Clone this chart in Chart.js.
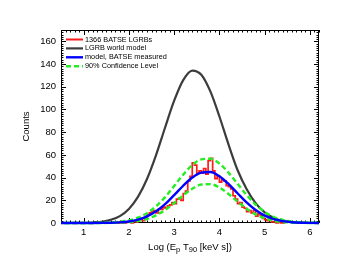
<!DOCTYPE html>
<html>
<head>
<meta charset="utf-8">
<script src="https://cdn.jsdelivr.net/npm/chart.js@4"></script>
<style>
  body { margin: 0; background: #fff; }
  #wrap { width: 341px; height: 264px; position: relative; }
</style>
</head>
<body>
<div id="wrap"><canvas id="c"></canvas></div>
<script>
// histogram of 1366 BATSE LGRBs, bin left edges (width 0.05) and counts
const binWidth = 0.05;
const binStart = 1.7;
const batseCounts = [1, 0, 1, 0, 0, 1, 1, 0, 2, 1, 3, 3, 2, 4, 7, 9, 10, 11, 9, 12,
  12, 14, 13, 15, 16, 18, 17, 21, 22, 20, 26, 28, 37, 41, 53, 51, 44, 46, 44, 48,
  43, 55, 57, 46, 39, 41, 36, 38, 37, 33, 32, 30, 24, 21, 17, 18, 14, 13, 10, 11,
  9, 11, 6, 8, 7, 4, 3, 2, 2, 1, 1, 0, 1, 0, 0];

// model curves sampled every 0.2 in log(Ep T90)
const curveX = [0.4, 0.6, 0.8, 1.0, 1.2, 1.4, 1.6, 1.8, 2.0, 2.2, 2.4, 2.6, 2.8, 3.0, 3.2, 3.4,
  3.6, 3.8, 4.0, 4.2, 4.4, 4.6, 4.8, 5.0, 5.2, 5.4, 5.6, 5.8, 6.0, 6.2, 6.4];
const worldModel = [0, 0.01, 0.05, 0.15, 0.42, 1.1, 2.8, 6.1, 12.4, 23.0, 38.8, 59.8, 84.1, 107.7, 125.9, 134.3,
  130.6, 115.9, 93.8, 69.3, 46.7, 30.0, 17.5, 9.3, 4.5, 2.0, 0.8, 0.3, 0.1, 0.02, 0];
const measuredModel = [0, 0, 0, 0, 0.02, 0.08, 0.22, 0.58, 1.37, 2.94, 5.76, 10.25, 16.6, 24.5, 32.8, 40.0,
  44.4, 44.9, 41.2, 34.4, 26.2, 18.1, 11.4, 6.5, 3.4, 1.6, 0.69, 0.27, 0.1, 0.03, 0];
const confUpper = [0, 0, 0, 0.01, 0.06, 0.17, 0.44, 1.06, 2.33, 4.69, 8.66, 14.7, 22.8, 32.6, 42.6, 51.0,
  56.1, 56.6, 52.4, 44.4, 34.6, 24.7, 16.2, 9.7, 5.3, 2.7, 1.25, 0.53, 0.2, 0.07, 0];
const confLower = [0, 0, 0, 0, 0.01, 0.03, 0.1, 0.29, 0.74, 1.71, 3.58, 6.75, 11.5, 17.6, 24.3, 30.2,
  33.9, 34.2, 31.2, 25.6, 18.9, 12.6, 7.6, 4.1, 2.0, 0.88, 0.35, 0.12, 0.04, 0.01, 0];

const xTicks = [1, 2, 3, 4, 5, 6];
const yTicks = [0, 20, 40, 60, 80, 100, 120, 140, 160];

const legendLabels = ['1366 BATSE LGRBs', 'LGRB world model', 'model, BATSE measured', '90% Confidence Level'];

const FONT = '"Liberation Sans", Arial, sans-serif';

// build histogram points (step before -> each segment takes the left value)
const histPoints = batseCounts.map((v, i) => ({ x: +(binStart + i * binWidth).toFixed(3), y: v }));
histPoints.push({ x: +(binStart + batseCounts.length * binWidth).toFixed(3), y: 0 });

const toPts = (ys) => ys.map((v, i) => ({ x: curveX[i], y: v }));

const clipBox = { left: 0, top: 0, right: 0, bottom: 3 };

const frameTicks = {
  id: 'frameTicks',
  beforeDatasetsDraw(chart) {
    const { ctx, chartArea: a, scales: { x, y } } = chart;
    ctx.save();
    ctx.strokeStyle = '#000';
    ctx.lineWidth = 1;
    ctx.strokeRect(a.left + 0.5, a.top + 0.5, a.right - a.left - 1, a.bottom - a.top - 1);
    ctx.beginPath();
    for (let i = 5; i <= 62; i++) {
      const px = Math.round(x.getPixelForValue(i / 10)) + 0.5;
      const len = i % 10 === 0 ? 5 : 2.5;
      ctx.moveTo(px, a.bottom); ctx.lineTo(px, a.bottom - len);
      ctx.moveTo(px, a.top); ctx.lineTo(px, a.top + len);
    }
    for (let i = 0; i <= 85; i++) {
      const v = i * 2;
      const py = Math.round(y.getPixelForValue(v)) + 0.5;
      const len = v % 20 === 0 ? 5 : 2.5;
      ctx.moveTo(a.left, py); ctx.lineTo(a.left + len, py);
      ctx.moveTo(a.right, py); ctx.lineTo(a.right - len, py);
    }
    ctx.stroke();
    ctx.restore();
  },
  afterDraw(chart) {
    const { ctx, chartArea: a } = chart;
    ctx.save();
    // legend (one entry per label, the lower confidence curve shares the green entry)
    ctx.font = '7.3px ' + FONT;
    ctx.textBaseline = 'middle';
    ctx.textAlign = 'left';
    legendLabels.forEach((label, i) => {
      const ds = chart.data.datasets[i];
      const yy = a.top + 9.5 + i * 8.9;
      ctx.strokeStyle = ds.borderColor;
      ctx.lineWidth = Math.max(ds.borderWidth, 2);
      ctx.setLineDash(ds.borderDash || []);
      ctx.beginPath();
      ctx.moveTo(a.left + 5, yy);
      ctx.lineTo(a.left + 22, yy);
      ctx.stroke();
      ctx.setLineDash([]);
      ctx.fillStyle = '#000';
      ctx.fillText(label, a.left + 24, yy);
    });
    // y title
    ctx.font = '9.5px ' + FONT;
    ctx.save();
    ctx.translate(26, (a.top + a.bottom) / 2);
    ctx.rotate(-Math.PI / 2);
    ctx.textAlign = 'center';
    ctx.fillText('Counts', 0, 0);
    ctx.restore();
    // x title with subscripts
    const parts = [['Log (E', 0], ['p', 1], [' T', 0], ['90', 1], [' [keV s])', 0]];
    const mainF = '9.5px ' + FONT, subF = '7.5px ' + FONT;
    let total = 0;
    parts.forEach(([t, s]) => { ctx.font = s ? subF : mainF; total += ctx.measureText(t).width; });
    let cx = (a.left + a.right) / 2 - total / 2;
    const ty = 247;
    ctx.textAlign = 'left';
    ctx.textBaseline = 'middle';
    parts.forEach(([t, s]) => {
      ctx.font = s ? subF : mainF;
      ctx.fillText(t, cx, s ? ty + 2.5 : ty);
      cx += ctx.measureText(t).width;
    });
    ctx.restore();
  }
};

new Chart(document.getElementById('c'), {
  type: 'line',
  data: {
    datasets: [
      {
        label: legendLabels[0],
        data: histPoints,
        borderColor: '#ff1a1a',
        borderWidth: 1.7,
        stepped: true,
        pointRadius: 0,
        clip: clipBox,
        order: 3
      },
      {
        label: legendLabels[1],
        data: toPts(worldModel),
        borderColor: '#3c3c3c',
        borderWidth: 2.2,
        cubicInterpolationMode: 'monotone',
        pointRadius: 0,
        clip: clipBox,
        order: 4
      },
      {
        label: legendLabels[2],
        data: toPts(measuredModel),
        borderColor: '#0000ff',
        borderWidth: 2.4,
        cubicInterpolationMode: 'monotone',
        pointRadius: 0,
        clip: clipBox,
        order: 1
      },
      {
        label: legendLabels[3],
        data: toPts(confUpper),
        borderColor: '#22ee22',
        borderWidth: 2.4,
        borderDash: [5, 3],
        cubicInterpolationMode: 'monotone',
        pointRadius: 0,
        clip: clipBox,
        order: 2
      },
      {
        label: legendLabels[3],
        data: toPts(confLower),
        borderColor: '#22ee22',
        borderWidth: 2.4,
        borderDash: [5, 3],
        cubicInterpolationMode: 'monotone',
        pointRadius: 0,
        clip: clipBox,
        order: 2
      }
    ]
  },
  options: {
    responsive: true,
    maintainAspectRatio: false,
    animation: false,
    layout: { padding: { top: 30, right: 22, left: 0, bottom: 0 } },
    plugins: { legend: { display: false }, tooltip: { enabled: false } },
    scales: {
      x: {
        type: 'linear',
        min: 0.5,
        max: 6.2,
        grid: { display: false, drawTicks: false },
        border: { display: false },
        afterBuildTicks: (s) => { s.ticks = xTicks.map(v => ({ value: v })); },
        afterFit: (s) => { s.height = 41; },
        ticks: { color: '#000', font: { family: FONT, size: 9.5 }, padding: 4, maxRotation: 0 }
      },
      y: {
        min: 0,
        max: 170,
        grid: { display: false, drawTicks: false },
        border: { display: false },
        afterBuildTicks: (s) => { s.ticks = yTicks.map(v => ({ value: v })); },
        afterFit: (s) => { s.width = 61; },
        ticks: { color: '#000', font: { family: FONT, size: 9.5 }, padding: 5 }
      }
    }
  },
  plugins: [frameTicks]
});
</script>
</body>
</html>
